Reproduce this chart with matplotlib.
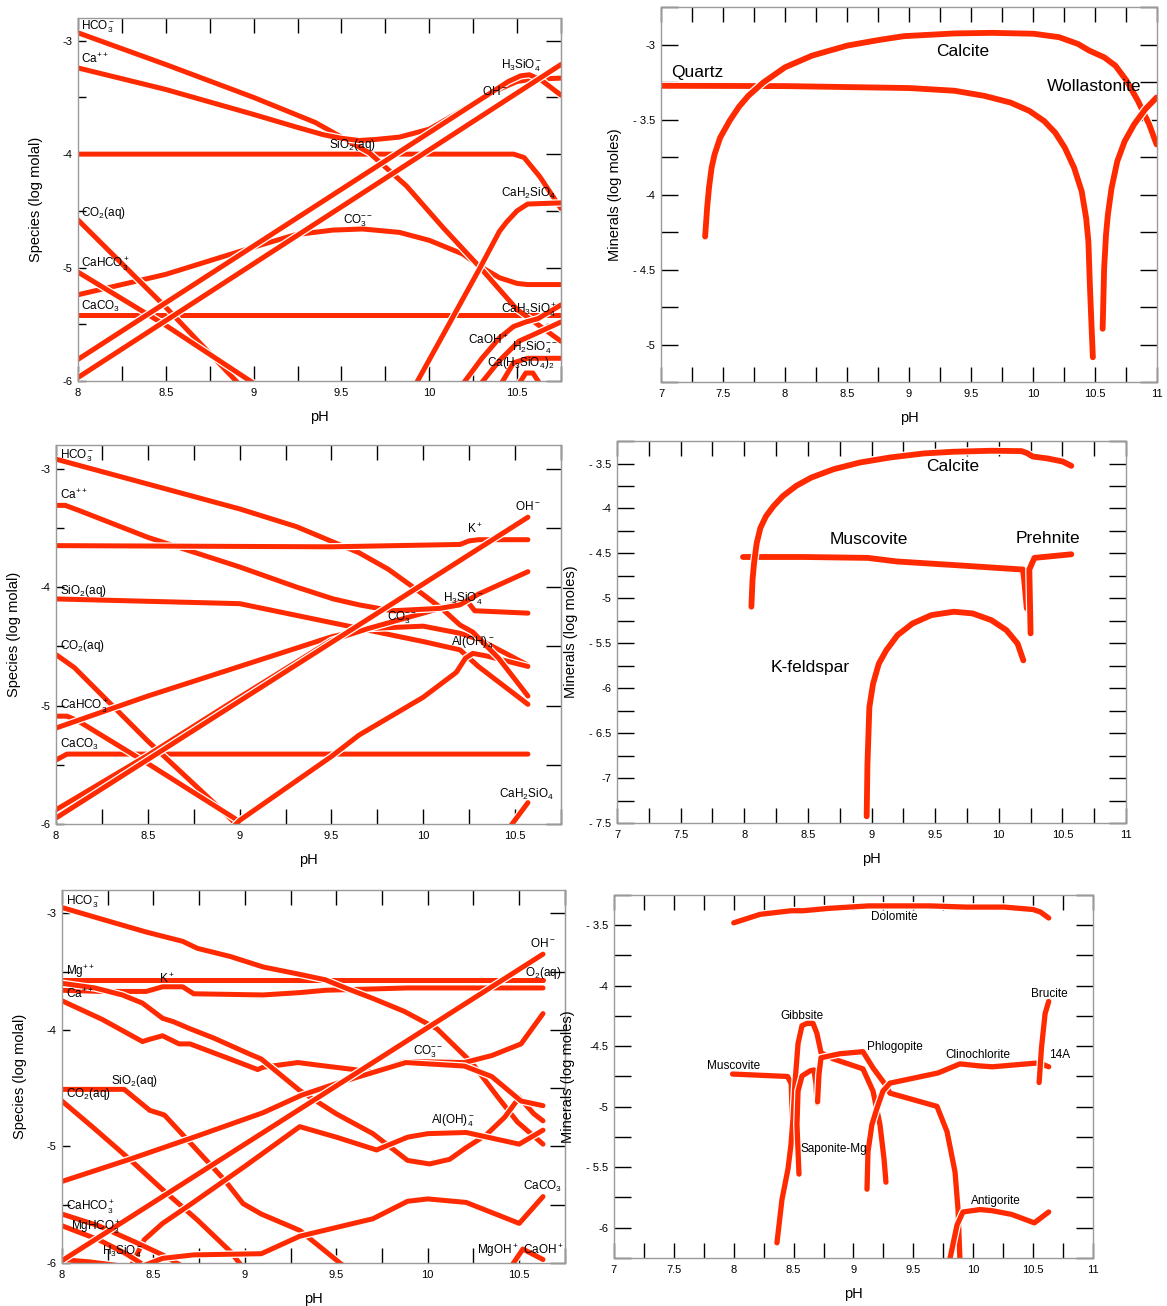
import matplotlib
matplotlib.use("Agg")
import matplotlib.pyplot as plt
import matplotlib.patheffects as pe
from matplotlib.ticker import MultipleLocator, FixedLocator, FixedFormatter, FuncFormatter

plt.rcParams['font.family'] = ['Liberation Sans', 'DejaVu Sans']
plt.rcParams['mathtext.fontset'] = 'custom'
plt.rcParams['mathtext.rm'] = 'Liberation Sans'
plt.rcParams['mathtext.it'] = 'Liberation Sans:italic'
plt.rcParams['mathtext.bf'] = 'Liberation Sans:bold'

RED = '#ff2a00'
SPINE = '#9a9a9a'

# ---------------------------------------------------------------------------
# Calcite + quartz system: aqueous species (pH, log molal)
# ---------------------------------------------------------------------------
A_HCO3 = ([8.0, 8.5, 9.0, 9.35, 9.5, 9.66, 9.87, 10.08, 10.29, 10.5, 10.75],
          [-2.93, -3.21, -3.50, -3.72, -3.85, -3.99, -4.28, -4.65, -5.00, -5.37, -5.65])
A_CA = ([8.0, 8.5, 9.0, 9.24, 9.4, 9.5, 9.6, 9.7, 9.83, 10.0, 10.18, 10.35, 10.5, 10.58, 10.75],
        [-3.24, -3.43, -3.65, -3.76, -3.83, -3.86, -3.88, -3.87, -3.85, -3.78, -3.62, -3.46, -3.36, -3.34, -3.33])
A_H3SIO4 = ([8.0, 10.45, 10.52, 10.57, 10.64, 10.75],
            [-5.81, -3.36, -3.31, -3.30, -3.35, -3.48])
A_OH = ([8.0, 10.75], [-5.97, -3.21])
A_SIO2 = ([8.0, 10.48, 10.54, 10.63, 10.75], [-4.0, -4.0, -4.03, -4.2, -4.48])
A_CO3 = ([8.0, 8.5, 9.0, 9.24, 9.45, 9.62, 9.83, 10.0, 10.19, 10.29, 10.4, 10.5, 10.56, 10.75],
         [-5.24, -5.06, -4.82, -4.71, -4.67, -4.66, -4.69, -4.76, -4.88, -4.99, -5.09, -5.14, -5.15, -5.15])
A_CACO3 = ([8.0, 10.75], [-5.42, -5.42])
A_CO2 = ([8.0, 8.5, 8.9, 9.0], [-4.58, -5.35, -6.0, -6.15])
A_CAHCO3 = ([8.0, 8.5, 9.0], [-5.04, -5.51, -6.02])
A_CAH2SIO4 = ([9.88, 10.08, 10.29, 10.4, 10.44, 10.5, 10.56, 10.75],
              [-6.15, -5.59, -5.0, -4.68, -4.6, -4.5, -4.44, -4.43])
A_CAH3SIO4 = ([10.18, 10.3, 10.4, 10.48, 10.55, 10.62, 10.75],
              [-6.05, -5.8, -5.62, -5.52, -5.48, -5.45, -5.33])
A_CAOH = ([10.28, 10.4, 10.51, 10.61, 10.75], [-6.05, -5.82, -5.65, -5.58, -5.48])
A_H2SIO4 = ([10.4, 10.48, 10.56, 10.75], [-6.05, -5.84, -5.8, -5.8])
A_CAH3SIO4_2 = ([10.5, 10.55, 10.59, 10.64], [-6.05, -5.93, -5.93, -6.05])

# Calcite + quartz system: minerals (pH, log moles)
B_QUARTZ = ([7.0, 8.0, 9.0, 9.366, 9.607, 9.819, 9.97, 10.09, 10.18, 10.257, 10.332, 10.393, 10.429,
             10.447, 10.459, 10.471, 10.483],
            [-3.275, -3.277, -3.29, -3.308, -3.342, -3.387, -3.442, -3.51, -3.588, -3.688, -3.822, -3.979,
             -4.158, -4.314, -4.604, -4.85, -5.085])
B_CALCITE = ([7.356, 7.372, 7.387, 7.408, 7.432, 7.477, 7.553, 7.628, 7.704, 7.825, 8.0, 8.218, 8.502,
              8.761, 8.961, 9.366, 9.668, 10.006, 10.211, 10.363, 10.453, 10.574, 10.665, 10.755, 10.846,
              10.937, 10.997],
             [-4.28, -4.09, -3.956, -3.822, -3.733, -3.621, -3.509, -3.416, -3.342, -3.253, -3.152, -3.074,
              -3.007, -2.969, -2.944, -2.926, -2.922, -2.928, -2.951, -2.996, -3.04, -3.085, -3.141, -3.241,
              -3.375, -3.532, -3.666])
B_WOLLASTONITE = ([10.562, 10.574, 10.589, 10.604, 10.634, 10.68, 10.74, 10.816, 10.906, 10.997],
                  [-4.895, -4.493, -4.269, -4.135, -3.956, -3.778, -3.644, -3.532, -3.431, -3.353])

# ---------------------------------------------------------------------------
# K-feldspar system: aqueous species
# ---------------------------------------------------------------------------
C_HCO3 = ([8.0, 8.5, 9.0, 9.31, 9.51, 9.65, 9.81, 9.98, 10.1, 10.2, 10.27, 10.41, 10.57],
          [-2.92, -3.13, -3.34, -3.49, -3.62, -3.71, -3.85, -4.04, -4.18, -4.32, -4.38, -4.6, -4.92])
C_CA = ([8.0, 8.05, 8.12, 8.5, 9.0, 9.31, 9.51, 9.65, 9.83, 10.09, 10.2, 10.3, 10.57],
        [-3.31, -3.31, -3.35, -3.58, -3.83, -4.0, -4.1, -4.15, -4.2, -4.18, -4.15, -4.06, -3.87])
C_K = ([8.0, 9.5, 10.2, 10.25, 10.3, 10.57], [-3.65, -3.66, -3.64, -3.61, -3.6, -3.6])
C_OH = ([8.0, 10.57], [-5.95, -3.41])
C_H3SIO4 = ([8.0, 8.5, 9.0, 9.5, 9.7, 10.0, 10.2, 10.24, 10.28, 10.57],
            [-5.88, -5.42, -4.93, -4.45, -4.35, -4.22, -4.13, -4.12, -4.2, -4.22])
C_SIO2 = ([8.0, 8.5, 9.0, 9.25, 9.5, 9.75, 10.0, 10.2, 10.25, 10.3, 10.57],
          [-4.1, -4.12, -4.14, -4.22, -4.3, -4.38, -4.46, -4.53, -4.6, -4.67, -4.99])
C_CO3 = ([8.0, 8.5, 9.0, 9.5, 9.7, 10.0, 10.2, 10.3, 10.45, 10.57],
         [-5.19, -4.92, -4.67, -4.42, -4.35, -4.33, -4.39, -4.44, -4.56, -4.66])
C_ALOH4 = ([8.95, 9.0, 9.5, 9.65, 10.0, 10.18, 10.23, 10.27, 10.34, 10.57],
           [-6.05, -5.97, -5.43, -5.25, -4.93, -4.72, -4.6, -4.56, -4.58, -4.67])
C_CO2 = ([8.0, 8.1, 8.5, 8.9, 9.0], [-4.57, -4.68, -5.3, -5.88, -6.03])
C_CAHCO3 = ([8.0, 8.06, 8.12, 8.5, 9.0], [-5.09, -5.09, -5.13, -5.49, -5.98])
C_CACO3 = ([8.0, 8.06, 10.57], [-5.46, -5.41, -5.41])
C_CAH2SIO4 = ([10.46, 10.57], [-6.05, -5.82])

# K-feldspar system: minerals
D_CALCITE = ([8.056, 8.065, 8.077, 8.098, 8.127, 8.171, 8.23, 8.304, 8.407, 8.526, 8.703, 8.909, 9.145,
              9.411, 9.647, 9.942, 10.178, 10.222, 10.266, 10.384, 10.502, 10.57],
             [-5.093, -4.795, -4.608, -4.384, -4.216, -4.086, -3.974, -3.862, -3.75, -3.657, -3.563, -3.489,
              -3.433, -3.388, -3.369, -3.358, -3.362, -3.384, -3.422, -3.444, -3.478, -3.526])
D_MUSCOVITE = ([7.99, 8.47, 8.97, 9.2, 9.65, 10.19, 10.2, 10.22],
               [-4.54, -4.54, -4.55, -4.59, -4.63, -4.68, -4.8, -5.11])
D_PREHNITE = ([10.25, 10.24, 10.28, 10.57], [-5.39, -4.68, -4.55, -4.51])
D_KFELDSPAR = ([8.962, 8.968, 8.983, 9.012, 9.057, 9.116, 9.204, 9.322, 9.47, 9.647, 9.794, 9.942, 10.06,
                10.148, 10.193],
               [-7.425, -6.847, -6.213, -5.951, -5.728, -5.578, -5.41, -5.28, -5.187, -5.149, -5.168, -5.243,
                -5.354, -5.504, -5.69])

# ---------------------------------------------------------------------------
# Dolomite system: aqueous species
# ---------------------------------------------------------------------------
E_HCO3 = ([8.0, 8.24, 8.46, 8.66, 8.74, 8.92, 9.1, 9.29, 9.44, 9.55, 9.7, 9.87, 10.05, 10.24, 10.38, 10.49, 10.63],
          [-2.95, -3.06, -3.16, -3.24, -3.3, -3.37, -3.46, -3.52, -3.57, -3.64, -3.73, -3.84, -3.99, -4.28, -4.57, -4.79, -4.98])
E_O2 = ([8.0, 10.63], [-3.57, -3.57])
E_K = ([8.0, 8.22, 8.46, 8.55, 8.66, 8.72, 9.1, 9.3, 9.44, 9.89, 10.63],
       [-3.66, -3.67, -3.67, -3.63, -3.63, -3.69, -3.7, -3.68, -3.66, -3.64, -3.64])
E_MG = ([8.0, 8.18, 8.33, 8.44, 8.55, 8.61, 8.7, 8.83, 9.03, 9.09, 9.3, 9.5, 9.7, 9.89, 10.01, 10.12, 10.21,
         10.32, 10.42, 10.5, 10.58, 10.63],
        [-3.6, -3.64, -3.7, -3.77, -3.9, -3.93, -3.99, -4.07, -4.21, -4.25, -4.52, -4.72, -4.89, -5.12, -5.15, -5.11,
         -5.01, -4.9, -4.75, -4.58, -4.72, -4.78])
E_CA = ([8.0, 8.22, 8.44, 8.48, 8.55, 8.64, 8.7, 8.92, 9.07, 9.1, 9.29, 9.44, 9.7, 9.88, 10.2, 10.35, 10.51, 10.63],
        [-3.75, -3.91, -4.1, -4.08, -4.05, -4.12, -4.12, -4.25, -4.34, -4.32, -4.28, -4.31, -4.36, -4.27, -4.28,
         -4.22, -4.12, -3.86])
E_CO3 = ([8.0, 8.37, 8.74, 9.1, 9.31, 9.5, 9.69, 9.88, 10.2, 10.35, 10.51, 10.63],
         [-5.3, -5.11, -4.91, -4.71, -4.56, -4.46, -4.37, -4.28, -4.31, -4.4, -4.61, -4.65])
E_OH = ([8.0, 10.63], [-5.98, -3.35])
E_SIO2 = ([8.0, 8.34, 8.48, 8.56, 8.72, 8.89, 8.99, 9.09, 9.3, 9.52, 9.56],
          [-4.51, -4.51, -4.69, -4.73, -5.0, -5.29, -5.49, -5.58, -5.72, -6.0, -6.05])
E_CO2 = ([8.0, 8.18, 8.37, 8.55, 8.74, 8.92, 8.98], [-4.61, -4.85, -5.11, -5.37, -5.63, -5.9, -6.02])
E_ALOH4 = ([8.38, 8.45, 8.55, 8.7, 9.0, 9.3, 9.5, 9.72, 9.89, 10.0, 10.21, 10.5, 10.63],
           [-6.02, -5.8, -5.66, -5.5, -5.17, -4.83, -4.92, -5.03, -4.92, -4.89, -4.88, -4.98, -4.86])
E_CAHCO3 = ([8.0, 8.2, 8.4, 8.55, 8.65], [-5.58, -5.68, -5.82, -5.93, -6.02])
E_MGHCO3 = ([8.0, 8.2, 8.35, 8.45], [-5.68, -5.8, -5.92, -6.02])
E_H3SIO4 = ([8.0, 8.15, 8.3], [-5.97, -5.99, -6.02])
E_CACO3 = ([8.45, 8.55, 8.72, 9.09, 9.3, 9.7, 9.89, 10.0, 10.21, 10.5, 10.63],
           [-6.02, -5.96, -5.93, -5.92, -5.77, -5.62, -5.47, -5.45, -5.48, -5.66, -5.43])
E_CAOH = ([10.46, 10.52, 10.63], [-6.02, -5.88, -5.97])

# Dolomite system: minerals
F_DOLOMITE = ([8.0, 8.22, 8.48, 8.58, 8.8, 9.13, 9.64, 9.94, 10.26, 10.5, 10.56, 10.63],
              [-3.48, -3.41, -3.38, -3.38, -3.36, -3.34, -3.34, -3.35, -3.35, -3.37, -3.39, -3.44])
F_MUSCOVITE = ([7.99, 8.45, 8.48, 8.49], [-4.73, -4.75, -4.81, -5.14])
F_GIBBSITE = ([8.361, 8.403, 8.453, 8.478, 8.495, 8.511, 8.537, 8.57, 8.612, 8.662, 8.695, 8.729, 8.829,
               9.079, 9.163, 9.221, 9.255, 9.271],
              [-6.125, -5.766, -5.515, -5.314, -5.097, -4.813, -4.478, -4.33, -4.311, -4.311, -4.395, -4.554,
               -4.604, -4.687, -4.871, -5.147, -5.431, -5.624])
F_SAPONITE = ([8.545, 8.528, 8.537, 8.57, 8.637, 8.67, 8.687, 8.695],
              [-5.557, -5.147, -4.871, -4.746, -4.704, -4.696, -4.813, -4.97])
F_PHLOGOPITE = ([8.70, 8.712, 8.729, 8.887, 9.079, 9.163, 9.263, 9.305, 9.697, 9.781, 9.848, 9.873, 9.889],
                [-4.96, -4.73, -4.595, -4.562, -4.545, -4.679, -4.813, -4.888, -4.997, -5.206, -5.54, -5.85, -6.27])
F_CLINOCHLORE = ([9.113, 9.121, 9.154, 9.196, 9.246, 9.305, 9.706, 9.889, 10.056, 10.16, 10.52, 10.58, 10.63],
                 [-5.682, -5.373, -5.147, -5.013, -4.871, -4.805, -4.721, -4.646, -4.663, -4.67, -4.64, -4.65, -4.67])
F_BRUCITE = ([10.55, 10.57, 10.6, 10.63], [-4.8, -4.51, -4.23, -4.13])
F_ANTIGORITE = ([9.79, 9.864, 9.914, 10.056, 10.16, 10.32, 10.51, 10.63],
                [-6.33, -5.98, -5.87, -5.85, -5.86, -5.89, -5.96, -5.87])


# ---------------------------------------------------------------------------
# drawing helpers
# ---------------------------------------------------------------------------
def draw(ax, curve, lw=3.6):
    x, y = curve
    ax.plot(x, y, color=RED, lw=lw, solid_capstyle='round', solid_joinstyle='round',
            path_effects=[pe.Stroke(linewidth=lw + 1.8, foreground='white', capstyle='round'),
                          pe.Normal()])


def frame(ax, xlim, ylim):
    ax.set_xlim(*xlim)
    ax.set_ylim(*ylim)
    for s in ax.spines.values():
        s.set_color(SPINE)
        s.set_linewidth(1.0)
    ax.xaxis.set_major_locator(MultipleLocator(0.5))
    ax.xaxis.set_minor_locator(MultipleLocator(0.25))
    ax.xaxis.set_major_formatter(FuncFormatter(lambda v, p: f'{v:g}'))
    ax.tick_params(axis='x', which='both', direction='in', length=11, width=1.0,
                   top=True, bottom=True, colors='black', labelsize=8, pad=5)
    ax.set_xlabel('pH', fontsize=10.5, labelpad=9)


def species_axes(ax, xlim):
    frame(ax, xlim, (-6.0, -2.8))
    ax.yaxis.set_major_locator(FixedLocator([-6, -5, -4, -3]))
    ax.yaxis.set_major_formatter(FuncFormatter(lambda v, p: f'{int(round(v))}'))
    ax.yaxis.set_minor_locator(FixedLocator([-5.5, -4.5, -3.5]))
    ax.tick_params(axis='y', which='both', direction='in', length=6, width=1.0,
                   left=True, right=False, labelsize=8, pad=4)
    sec = ax.secondary_yaxis('right')
    sec.yaxis.set_major_locator(MultipleLocator(0.5))
    sec.tick_params(direction='in', length=11, width=1.0, labelright=False)
    sec.spines['right'].set_color(SPINE)
    ax.set_ylabel('Species (log molal)', fontsize=10.5, labelpad=14)


def mineral_axes(ax, ylim, ticks, labels):
    frame(ax, (7, 11), ylim)
    ax.yaxis.set_major_locator(FixedLocator(ticks))
    ax.yaxis.set_major_formatter(FixedFormatter(labels))
    ax.yaxis.set_minor_locator(MultipleLocator(0.25))
    ax.tick_params(axis='y', which='both', direction='in', length=12, width=1.0,
                   left=True, right=True, labelsize=8, pad=4)
    ax.set_ylabel('Minerals (log moles)', fontsize=10.5, labelpad=8)


def labels(ax, items, size):
    for txt, x, y in items:
        ax.text(x, y, txt, fontsize=size, ha='left', va='center', color='black')


fig = plt.figure(figsize=(11.67, 13.06), dpi=100)

# ---------------------------------------------------------------- row 1
ax1 = fig.add_axes([0.0668, 0.7083, 0.4139, 0.2779])
species_axes(ax1, (8, 10.75))
for c in [A_CACO3, A_SIO2, A_CO3, A_CO2, A_CAHCO3, A_HCO3, A_CA, A_H3SIO4, A_OH,
          A_CAH2SIO4, A_CAH3SIO4, A_CAOH, A_H2SIO4, A_CAH3SIO4_2]:
    draw(ax1, c)
labels(ax1, [
    ('HCO$_3^-$', 8.017, -2.88), ('Ca$^{++}$', 8.017, -3.16), ('CO$_2$(aq)', 8.017, -4.52),
    ('CaHCO$_3^+$', 8.017, -4.97), ('CaCO$_3$', 8.017, -5.34), ('SiO$_2$(aq)', 9.43, -3.92),
    ('CO$_3^{--}$', 9.51, -4.59), ('H$_3$SiO$_4^-$', 10.41, -3.22), ('OH$^-$', 10.30, -3.45),
    ('CaH$_2$SiO$_4$', 10.41, -4.35), ('CaH$_3$SiO$_4^+$', 10.41, -5.38), ('CaOH$^+$', 10.22, -5.64),
    ('H$_2$SiO$_4^{--}$', 10.47, -5.71), ('Ca(H$_3$SiO$_4$)$_2$', 10.33, -5.84),
], 8.5)

ax2 = fig.add_axes([0.5664, 0.7075, 0.4250, 0.2871])
mineral_axes(ax2, (-5.25, -2.75), [-5, -4.5, -4, -3.5, -3], ['-5', '- 4.5', '-4', '- 3.5', '-3'])
for c in [B_QUARTZ, B_CALCITE, B_WOLLASTONITE]:
    draw(ax2, c, lw=4.2)
labels(ax2, [('Quartz', 7.08, -3.185), ('Calcite', 9.22, -3.045), ('Wollastonite', 10.11, -3.28)], 12.5)

# ---------------------------------------------------------------- row 2
ax3 = fig.add_axes([0.0480, 0.3691, 0.4327, 0.2902])
species_axes(ax3, (8, 10.75))
for c in [C_CACO3, C_CO2, C_CAHCO3, C_SIO2, C_CO3, C_ALOH4, C_H3SIO4, C_HCO3, C_CA, C_K, C_OH, C_CAH2SIO4]:
    draw(ax3, c)
labels(ax3, [
    ('HCO$_3^-$', 8.02, -2.89), ('Ca$^{++}$', 8.02, -3.22), ('SiO$_2$(aq)', 8.02, -4.03),
    ('CO$_2$(aq)', 8.02, -4.5), ('CaHCO$_3^+$', 8.02, -5.01), ('CaCO$_3$', 8.02, -5.33),
    ('OH$^-$', 10.5, -3.32), ('K$^+$', 10.24, -3.51), ('H$_3$SiO$_4^-$', 10.11, -4.1),
    ('CO$_3^{--}$', 9.8, -4.26), ('Al(OH)$_4^-$', 10.15, -4.47), ('CaH$_2$SiO$_4$', 10.41, -5.75),
], 8.5)

ax4 = fig.add_axes([0.5287, 0.3698, 0.4362, 0.2925])
mineral_axes(ax4, (-7.5, -3.25), [-7.5, -7, -6.5, -6, -5.5, -5, -4.5, -4, -3.5],
             ['- 7.5', '-7', '- 6.5', '-6', '- 5.5', '-5', '- 4.5', '-4', '- 3.5'])
for c in [D_MUSCOVITE, D_CALCITE, D_KFELDSPAR, D_PREHNITE]:
    draw(ax4, c, lw=4.2)
labels(ax4, [('Calcite', 9.43, -3.53), ('Muscovite', 8.67, -4.35), ('Prehnite', 10.13, -4.33),
             ('K-feldspar', 8.21, -5.77)], 12.5)

# ---------------------------------------------------------------- row 3
ax5 = fig.add_axes([0.0531, 0.0329, 0.4310, 0.2856])
species_axes(ax5, (8, 10.75))
for c in [E_O2, E_K, E_HCO3, E_CA, E_MG, E_SIO2, E_CO2, E_CO3, E_ALOH4, E_CAHCO3, E_MGHCO3,
          E_H3SIO4, E_CACO3, E_OH, E_CAOH]:
    draw(ax5, c)
labels(ax5, [
    ('HCO$_3^-$', 8.02, -2.9), ('Mg$^{++}$', 8.02, -3.5), ('K$^+$', 8.53, -3.56), ('Ca$^{++}$', 8.02, -3.69),
    ('SiO$_2$(aq)', 8.27, -4.44), ('CO$_2$(aq)', 8.02, -4.55), ('CaHCO$_3^+$', 8.02, -5.52),
    ('MgHCO$_3^+$', 8.05, -5.69), ('H$_3$SiO$_4^-$', 8.22, -5.9), ('OH$^-$', 10.56, -3.26),
    ('O$_2$(aq)', 10.53, -3.51), ('CO$_3^{--}$', 9.92, -4.19), ('Al(OH)$_4^-$', 10.02, -4.78),
    ('CaCO$_3$', 10.52, -5.34), ('MgOH$^+$', 10.27, -5.89), ('CaOH$^+$', 10.52, -5.89),
], 8.5)

ax6 = fig.add_axes([0.5261, 0.0368, 0.4105, 0.2779])
mineral_axes(ax6, (-6.25, -3.25), [-6, -5.5, -5, -4.5, -4, -3.5],
             ['-6', '- 5.5', '-5', '-4.5', '-4', '- 3.5'])
for c in [F_DOLOMITE, F_MUSCOVITE, F_GIBBSITE, F_SAPONITE, F_PHLOGOPITE, F_CLINOCHLORE,
          F_ANTIGORITE, F_BRUCITE]:
    draw(ax6, c, lw=3.8)
labels(ax6, [
    ('Dolomite', 9.15, -3.43), ('Brucite', 10.48, -4.07), ('Gibbsite', 8.39, -4.25),
    ('Phlogopite', 9.11, -4.51), ('Clinochlorite', 9.77, -4.57), ('14A', 10.63, -4.57),
    ('Muscovite', 7.78, -4.66), ('Saponite-Mg', 8.56, -5.35), ('Antigorite', 9.98, -5.78),
], 8.5)

fig.savefig('out.png', dpi=100)
